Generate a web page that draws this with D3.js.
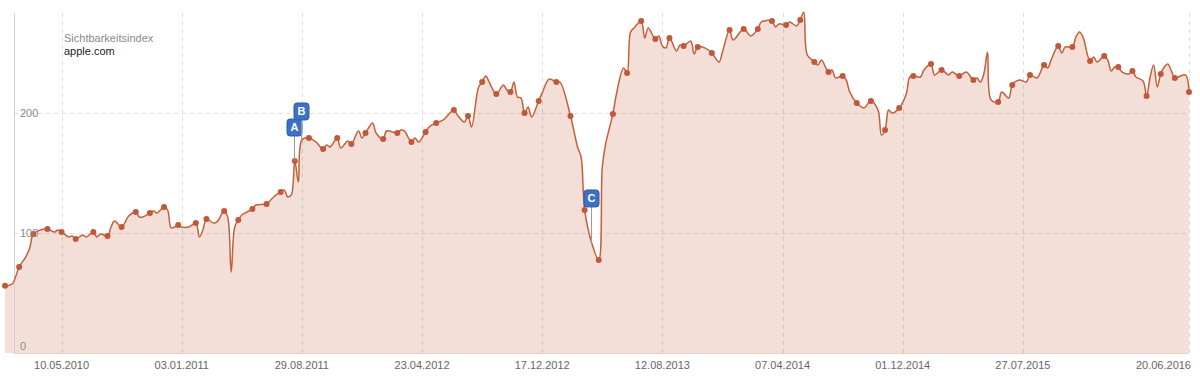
<!DOCTYPE html>
<html>
<head>
<meta charset="utf-8">
<script src="https://cdn.jsdelivr.net/npm/d3@7"></script>
<style>
  body { margin: 0; background: #fff; }
  text { font-family: "Liberation Sans", Arial, sans-serif; }
</style>
</head>
<body>
<div class="svg-container"></div>
<script>
// weekly data, week number counted from the first point (18.01.2010)
var weeks = [0,2,4,6,7,8,10,12,14,15,16,18,19,20,22,23,25,26,27,29,30,31,33,35,37,38,39,41,42,43,45,46,47,48,49,50,52,54,55,56,57,59,60,62,63,64,65,66,67,70,71,74,76,78,79,80,81,82,83,84,86,88,90,91,92,94,95,97,98,100,101,102,104,105,107,108,111,112,113,115,116,117,119,120,122,124,127,128,130,131,132,134,135,136,137,139,141,142,143,144,145,146,147,148,149,151,152,154,156,157,160,162,163,164,166,168,169,170,172,173,175,176,177,178,180,181,182,184,185,186,187,188,190,191,192,194,195,196,198,200,202,203,205,206,209,211,213,214,217,218,219,221,222,224,225,226,227,229,230,231,233,234,235,237,238,239,241,243,245,247,248,249,250,251,253,255,256,257,259,260,262,263,265,267,268,270,272,274,275,276,277,278,279,281,282,284,285,287,289,290,292,294,295,296,298,299,300,302,303,304,305,307,308,309,311,312,313,314,315,316,318,319,320,322,323,324,325,326,327,328,329,331,332,334,335];
var values = [56,57.5,71.7,80.8,87.5,99.2,102.5,103.3,100.8,102.5,100.8,96.7,97.5,95,98.3,96.7,100.8,96.7,99.2,97.5,105,110,105,114.2,117.5,113.3,113.3,116.7,118.3,116.7,121.7,119.2,104.2,105,106.7,105,105,108.3,96.7,102.5,111.7,108.3,109.2,118.3,113.3,67.5,105,110.8,115,120,123.3,124.2,130,134.2,135.8,130,131.7,160,142.5,177.5,179.2,175.8,170,173.3,171.7,179.2,170.8,176.7,174.2,185,179.2,183.3,191.7,183.3,178.3,185,183.3,185.8,185,175.8,179.2,175.8,184.2,188.3,191.7,194.2,202.5,198.3,192.5,197.5,188.3,221.7,225.8,230.8,225.8,215.8,223.3,219.2,217.5,225.8,213.3,212.5,200,205,196.7,210,216.7,228.3,225.8,225.8,197.5,171.7,163.3,119.2,91.7,77.5,155,175,199.2,215.8,237.5,233.3,267.5,270.8,276.7,262.5,270.8,261.7,264.2,255.8,254.2,262.5,251.7,256.7,255.8,260,249.2,255,254.2,250,242.5,250.8,269.2,260.8,270,264.2,270,275.8,276.7,271.7,274.2,273.3,275.8,272.5,277.5,284,248.3,242.5,240,244.2,234.2,235.8,229.2,230.8,227.5,217.5,208.3,204.2,210,202.5,181.7,185.8,202.5,200,204.2,215.8,230,230.8,230,235.8,240.8,231.7,235.8,231.7,234.2,230.8,234.2,227.5,229.2,225.8,233.3,250.8,210.8,209.2,217.5,212.5,223.3,227.5,225.8,231.7,229.2,240,237.5,244.2,255.8,250,255,255,263.3,267.5,263.3,243.3,246.7,242.5,247.5,244.2,235,238.3,238.3,234.2,232.5,235,230,226.7,214.2,230,240,221.7,232.5,238.3,240.8,229.2,230,231.7,217.5];
// weeks that carry a marker dot
var dotWeeks = [0,4,8,12,16,20,25,29,33,37,41,45,49,54,57,62,66,70,74,78,82,86,90,94,98,102,107,111,115,119,122,127,131,135,139,143,147,151,156,160,164,168,172,176,180,184,188,192,196,200,205,209,213,217,221,225,229,233,237,241,245,249,253,257,262,265,270,274,281,285,290,294,298,302,307,311,315,319,323,327,331,335];

var startDate = "18.01.2010";
var endDate = "20.06.2016";
var tickLabels = ["10.05.2010","03.01.2011","29.08.2011","23.04.2012","17.12.2012","12.08.2013","07.04.2014","01.12.2014","27.07.2015","20.06.2016"];
var yTicks = [0, 100, 200];

// event flags
var flagLabels = ["A", "B", "C"];
var flagWeeks = [82, 84, 166];

var seriesTitle = "Sichtbarkeitsindex";
var seriesName = "apple.com";

var width = 1200;
var height = 380;
var plotLeft = 5, plotRight = 1189, plotTop = 13, plotBottom = 353;
var lineColor = "#c45f3a";

var parse = d3.timeParse("%d.%m.%Y");
var start = parse(startDate);

function weekDate(w) {
    return d3.timeDay.offset(start, w * 7);
}

var data = weeks.map(function(w, i) {
    return { date: weekDate(w), value: values[i], week: w };
});

var svg = d3.select(".svg-container").append("svg")
    .attr("width", width)
    .attr("height", height);

// X
var x = d3.scaleTime()
    .domain([start, parse(endDate)])
    .range([plotLeft, plotRight]);

// Y
var y = d3.scaleLinear()
    .domain([0, 283.3])
    .range([plotBottom, plotTop]);

// vertical grid
svg.append("g")
    .selectAll("line")
    .data(tickLabels)
    .enter().append("line")
    .attr("x1", function(d) { return Math.round(x(parse(d))) + 0.5; })
    .attr("x2", function(d) { return Math.round(x(parse(d))) + 0.5; })
    .attr("y1", plotTop)
    .attr("y2", plotBottom)
    .style("stroke", "#dedede")
    .style("stroke-dasharray", "4,4");

// horizontal grid
svg.append("g")
    .selectAll("line")
    .data(yTicks.filter(function(d) { return d > 0; }))
    .enter().append("line")
    .attr("x1", 14)
    .attr("x2", plotRight)
    .attr("y1", function(d) { return Math.round(y(d)) + 0.5; })
    .attr("y2", function(d) { return Math.round(y(d)) + 0.5; })
    .style("stroke", "#dedede")
    .style("stroke-dasharray", "4,4");

var curve = d3.curveCatmullRom.alpha(0.5);

// area
var area = d3.area()
    .curve(curve)
    .x(function(d) { return x(d.date); })
    .y0(y(0))
    .y1(function(d) { return y(d.value); });

svg.append("path")
    .datum(data)
    .attr("d", area)
    .style("fill", lineColor)
    .style("fill-opacity", 0.2);

// axis lines
svg.append("line")
    .attr("x1", 14.5).attr("x2", 14.5)
    .attr("y1", plotTop).attr("y2", plotBottom)
    .style("stroke", "#cfcfcf");

svg.append("line")
    .attr("x1", 14).attr("x2", plotRight)
    .attr("y1", plotBottom + 0.5).attr("y2", plotBottom + 0.5)
    .style("stroke", "#e2d3cd");

// line
var line = d3.line()
    .curve(curve)
    .x(function(d) { return x(d.date); })
    .y(function(d) { return y(d.value); });

svg.append("path")
    .datum(data)
    .attr("d", line)
    .attr("fill", "none")
    .attr("stroke", lineColor)
    .attr("stroke-width", 1.5);

// dots
svg.selectAll(".dot")
    .data(data.filter(function(d) { return dotWeeks.indexOf(d.week) >= 0; }))
    .enter().append("circle")
    .attr("class", "dot")
    .attr("r", 3)
    .attr("cx", function(d) { return x(d.date); })
    .attr("cy", function(d) { return y(d.value); })
    .style("fill", "#c0583a");

// Y labels
svg.append("g")
    .selectAll("text")
    .data(yTicks)
    .enter().append("text")
    .attr("x", 20)
    .attr("y", function(d) { return d === 0 ? y(d) - 3 : y(d) + 4; })
    .style("font-size", "11px")
    .style("fill", "#8a8a8a")
    .text(function(d) { return d; });

// X labels
svg.append("g")
    .selectAll("text")
    .data(tickLabels)
    .enter().append("text")
    .attr("x", function(d, i) { return i === tickLabels.length - 1 ? plotRight + 2 : x(parse(d)); })
    .attr("y", 369)
    .style("text-anchor", function(d, i) { return i === tickLabels.length - 1 ? "end" : "middle"; })
    .style("font-size", "11px")
    .style("fill", "#666")
    .text(function(d) { return d; });

// legend
svg.append("text")
    .attr("x", 64).attr("y", 42)
    .style("font-size", "11px")
    .style("fill", "#8a8a8a")
    .text(seriesTitle);

svg.append("text")
    .attr("x", 64).attr("y", 55)
    .style("font-size", "11px")
    .style("fill", "#222")
    .text(seriesName);

// flags - how far each box sits above its point
var flagLift = [25, 20, 36];
var flagW = 15, flagH = 17;

flagLabels.forEach(function(label, i) {
    var w = flagWeeks[i];
    var v = values[weeks.indexOf(w)];
    var fx = Math.round(x(weekDate(w))) - 1;
    var fy = y(v);
    var boxBottom = fy - flagLift[i];
    var g = svg.append("g");
    g.append("line")
        .attr("x1", fx + 0.5).attr("x2", fx + 0.5)
        .attr("y1", boxBottom).attr("y2", fy)
        .style("stroke", "#9a9a9a");
    g.append("rect")
        .attr("x", fx - flagW / 2 + 0.5)
        .attr("y", boxBottom - flagH)
        .attr("width", flagW)
        .attr("height", flagH)
        .attr("rx", 3)
        .style("fill", "#3c71c4")
        .style("stroke", "#2f5ea8");
    g.append("text")
        .attr("x", fx + 0.5)
        .attr("y", boxBottom - 4.5)
        .style("text-anchor", "middle")
        .style("font-size", "11px")
        .style("font-weight", "bold")
        .style("fill", "#fff")
        .text(label);
});
</script>
</body>
</html>
